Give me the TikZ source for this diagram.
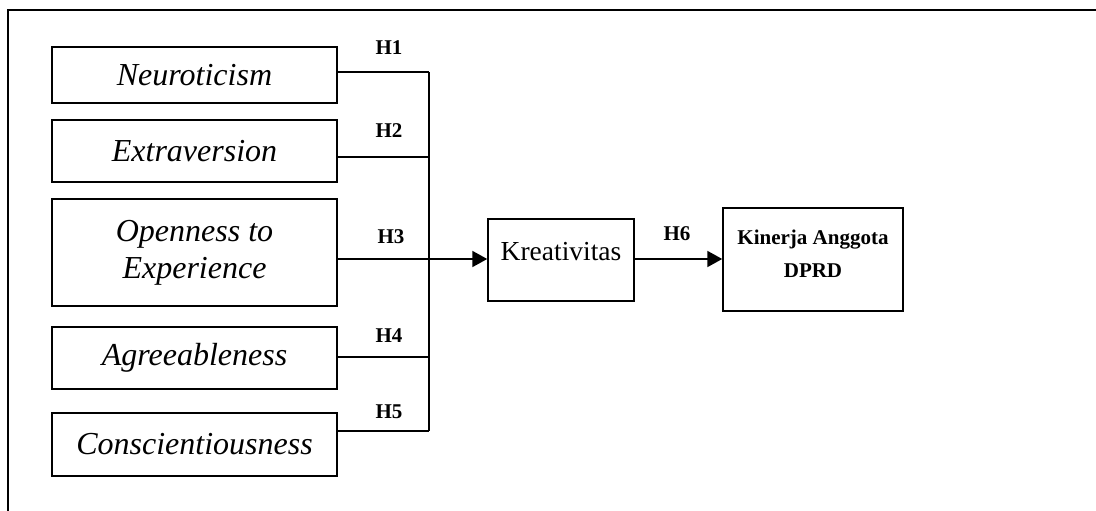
\documentclass[tikz,border=0pt]{standalone}
\usepackage{fontspec}
\setmainfont{Liberation Serif}
\usetikzlibrary{arrows.meta}
\begin{document}
\begin{tikzpicture}[x=1pt,y=-1pt,
  line width=1.5pt,
  varbox/.style={draw, rectangle, minimum width=285pt, inner sep=0pt, align=center,
    font=\fontsize{32}{37}\selectfont\itshape},
  hlab/.style={font=\fontsize{21}{24}\selectfont\bfseries, inner sep=0pt},
  arr/.style={-{Triangle[length=15pt,width=16pt]}, line width=2pt}]
\useasboundingbox (0,0) rectangle (1096,511);
\draw (1096,10) -- (8,10) -- (8,511);
\node[varbox, minimum height=56pt] (n1) at (194.5,75) {Neuroticism};
\node[varbox, minimum height=62pt] (n2) at (194.5,151) {Extraversion};
\node[varbox, minimum height=107pt] (n3) at (194.5,252.5) {Openness to\\Experience};
\node[varbox, minimum height=62pt] (n4) at (194.5,358) {Agreeableness};
\node[varbox, minimum height=63pt] (n5) at (194.5,444.5) {Conscientiousness};
\node[draw, rectangle, minimum width=146pt, minimum height=82pt, inner sep=0pt,
  label={[font=\fontsize{27.5}{30}\selectfont, inner sep=0pt, yshift=8pt]center:Kreativitas}] (k) at (561,260) {};
\node[draw, rectangle, minimum width=180pt, minimum height=103pt, inner sep=0pt,
  label={[font=\fontsize{21}{33}\selectfont\bfseries, align=center, inner sep=0pt, yshift=6pt]center:Kinerja Anggota\\DPRD}] (kin) at (813,259.5) {};
\coordinate (j1) at (429,72);
\coordinate (j2) at (429,157);
\coordinate (j3) at (429,259);
\coordinate (j4) at (429,357);
\coordinate (j5) at (429,431);
\draw (n1.east |- j1) -- (j1);
\draw (n2.east |- j2) -- (j2);
\draw (n4.east |- j4) -- (j4);
\draw (n5.east |- j5) -- (j5);
\draw (j1) -- (j5);
\draw[arr] (n3.east |- j3) -- (k.west |- j3);
\draw[arr] (k.east |- j3) -- (kin.west |- j3);
\node[hlab] (h1) at (389,48) {H1};
\node[hlab] (h2) at (389,131) {H2};
\node[hlab] (h3) at (391,237) {H3};
\node[hlab] (h4) at (389,336) {H4};
\node[hlab] (h5) at (389,412) {H5};
\node[hlab] (h6) at (677,234) {H6};
\end{tikzpicture}
\end{document}
